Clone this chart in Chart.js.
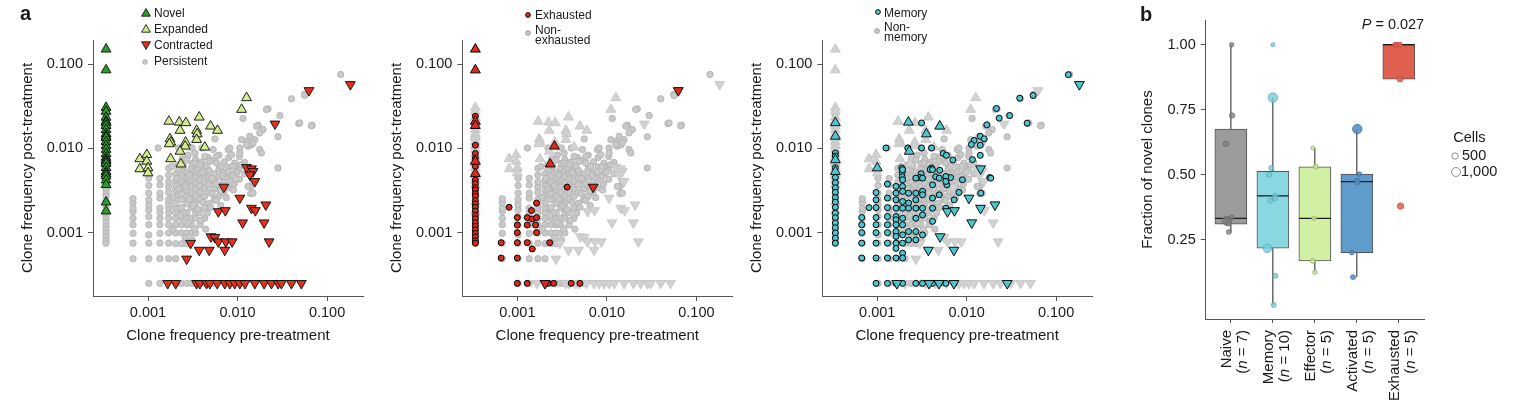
<!DOCTYPE html>
<html>
<head>
<meta charset="utf-8">
<title>Clone frequency pre/post treatment</title>
<script src="https://cdn.jsdelivr.net/npm/chart.js@4.4.1/dist/chart.umd.min.js"></script>
<style>
  html, body { margin:0; padding:0; background:#ffffff; }
  body { position:relative; width:1516px; height:401px; overflow:hidden;
         font-family:"Liberation Sans", Arial, Helvetica, sans-serif; color:#1a1a1a; }
  canvas { position:absolute; top:0; }
  .t { position:absolute; white-space:nowrap; }
  .lg { font-size:12px; line-height:12px; }
  .lg2 { font-size:12px; line-height:10px; }
  svg { position:absolute; overflow:visible; }
  .cat { position:absolute; width:90px; height:32px; font-size:15px; line-height:16px; text-align:right;
         white-space:nowrap; transform:rotate(-90deg); transform-origin:0 0; }
</style>
</head>
<body>
<canvas id="pA1" width="370" height="401" style="left:0px"></canvas>
<canvas id="pA2" width="370" height="401" style="left:370px"></canvas>
<canvas id="pA3" width="370" height="401" style="left:730px"></canvas>
<canvas id="pB" width="416" height="401" style="left:1100px"></canvas>

<div class="t" style="left:20px;top:3px;font-size:20px;line-height:20px;font-weight:bold">a</div>
<div class="t" style="left:1140px;top:3.8px;font-size:20px;line-height:20px;font-weight:bold">b</div>

<!-- legend panel 1 -->
<svg width="10" height="10" style="left:140.7px;top:7.7px"><polygon points="5,0.6 9.4,8.2 0.6,8.2" fill="#2f9b2d" stroke="#000" stroke-width="0.8"/></svg>
<div class="t lg" style="left:154px;top:7.1px">Novel</div>
<svg width="10" height="10" style="left:140.7px;top:24.3px"><polygon points="5,0.6 9.4,8.2 0.6,8.2" fill="#d4ec90" stroke="#000" stroke-width="0.8"/></svg>
<div class="t lg" style="left:154px;top:23.2px">Expanded</div>
<svg width="10" height="10" style="left:140.7px;top:40px"><polygon points="0.6,1.8 9.4,1.8 5,9.4" fill="#e0321e" stroke="#000" stroke-width="0.8"/></svg>
<div class="t lg" style="left:154px;top:39.2px">Contracted</div>
<svg width="10" height="10" style="left:140px;top:57px"><circle cx="5" cy="5" r="2.4" fill="#c9c9c9" stroke="#a8a8a8" stroke-width="0.7"/></svg>
<div class="t lg" style="left:154px;top:55.3px">Persistent</div>

<!-- legend panel 2 -->
<svg width="10" height="10" style="left:523.3px;top:9.7px"><circle cx="5" cy="5" r="2.4" fill="#dc2b1c" stroke="#000" stroke-width="0.9"/></svg>
<div class="t lg" style="left:535px;top:8.8px">Exhausted</div>
<svg width="10" height="10" style="left:522.7px;top:28.3px"><circle cx="5" cy="5" r="2.4" fill="#c9c9c9" stroke="#888" stroke-width="0.7"/></svg>
<div class="t lg2" style="left:535px;top:24.8px">Non-<br>exhausted</div>

<!-- legend panel 3 -->
<svg width="10" height="10" style="left:873.3px;top:7px"><circle cx="5" cy="5" r="2.4" fill="#4fc6cf" stroke="#000" stroke-width="0.9"/></svg>
<div class="t lg" style="left:884px;top:6.5px">Memory</div>
<svg width="10" height="10" style="left:872.3px;top:26px"><circle cx="5" cy="5" r="2.4" fill="#c9c9c9" stroke="#888" stroke-width="0.7"/></svg>
<div class="t lg2" style="left:884px;top:21.5px">Non-<br>memory</div>

<!-- panel b annotations -->
<div class="t" style="left:1361.7px;top:17.4px;font-size:14.5px;line-height:14.5px"><i>P</i> = 0.027</div>
<div class="t" style="left:1453.3px;top:130.4px;font-size:14.5px;line-height:14.5px">Cells</div>
<div class="t" style="left:1462px;top:147.7px;font-size:14.5px;line-height:14.5px">500</div>
<div class="t" style="left:1461px;top:164.4px;font-size:14.5px;line-height:14.5px">1,000</div>

<script>
// ================= DATA =================
// Panel a: clone frequencies (pre-treatment x, post-treatment y)
const logTicks = [0.001, 0.01, 0.1];
const logTickLabels = ['0.001', '0.010', '0.100'];
const notDetectedPre = 0.00034;     // placement of clones absent before treatment

const novelPost = [0.150, 0.085, 0.0305, 0.0274, 0.0233, 0.0209, 0.0201, 0.0186, 0.0167, 0.0149, 0.0139,
  0.0134, 0.0120, 0.0108, 0.0097, 0.0086, 0.0078, 0.0073, 0.0070, 0.0066, 0.0059, 0.0053, 0.0050,
  0.0047, 0.0042, 0.0037, 0.0023, 0.0018];

const persistentLeftPost = [0.024, 0.0109, 0.0087, 0.0077, 0.0061, 0.0052, 0.0046, 0.0042, 0.0038, 0.0034,
  0.0032, 0.0029, 0.0027, 0.0024, 0.0022, 0.0020, 0.0018, 0.0016, 0.00146, 0.00131, 0.00119, 0.00108,
  0.00098, 0.00089, 0.0008, 0.00075];

const expanded = [[0.00171,0.0209],[0.00223,0.0204],[0.00265,0.0201],[0.00373,0.0234],[0.00228,0.0163],
  [0.00176,0.0129],[0.0018,0.0118],[0.00173,0.0113],[0.00349,0.0163],[0.00354,0.0148],[0.00349,0.0127],
  [0.0050,0.0183],[0.00598,0.0163],[0.00263,0.0118],[0.0026,0.0106],[0.00431,0.0103],[0.00228,0.0092],
  [0.00179,0.0075],[0.00233,0.0065],[0.00081,0.0075],[0.00097,0.0084],[0.00097,0.0070],[0.00081,0.0057],
  [0.001,0.00585],[0.001,0.0051],[0.0111,0.0289],[0.0126,0.0398]];

const contracted = [[0.182,0.0573],[0.0628,0.0486],[0.0262,0.0195],[0.0126,0.00594],[0.0143,0.00573],
  [0.0149,0.00532],[0.0137,0.00486],[0.0156,0.00405],[0.00703,0.00347],[0.0106,0.00257],[0.0143,0.00195],
  [0.0158,0.00183],[0.0207,0.00214],[0.0061,0.00178],[0.0073,0.00183],[0.0114,0.00131],[0.0198,0.00131],
  [0.0225,0.00078],[0.00504,0.000896],[0.00558,0.00088],[0.0061,0.00078],[0.0074,0.00078],[0.0087,0.00078],
  [0.00299,0.000748],[0.00373,0.00062],[0.00483,0.00062],[0.0072,0.00062],[0.0027,0.000487],
  [0.00166,0.00025],[0.00204,0.00025],[0.00349,0.00025],[0.0038,0.00025],[0.00451,0.00025],[0.00491,0.00025],
  [0.00593,0.00025],[0.0072,0.00025],[0.0082,0.00025],[0.0093,0.00025],[0.0106,0.00025],[0.0121,0.00025],
  [0.0156,0.00025],[0.0198,0.00025],[0.0239,0.00025],[0.0284,0.00025],[0.0309,0.00025],[0.040,0.00025],
  [0.0516,0.00025]];

const persistent = [
  [0.00068,0.00049],[0.00068,0.00075],[0.00068,0.00098],[0.00068,0.00124],[0.00068,0.00148],[0.00068,0.00178],
  [0.00068,0.00195],[0.00068,0.00228],[0.00068,0.00252],
  [0.00102,0.00025],[0.00102,0.00049],[0.00102,0.00075],[0.00102,0.00094],[0.00102,0.00124],[0.00102,0.00155],
  [0.00102,0.00186],[0.00102,0.00214],[0.00102,0.00245],[0.00102,0.00294],[0.00102,0.00363],[0.00102,0.00443],
  [0.00102,0.00558],
  [0.00136,0.00025],[0.00136,0.00049],[0.00136,0.00075],[0.00136,0.00098],[0.00136,0.00124],[0.00136,0.00148],
  [0.00136,0.00173],[0.00136,0.00195],[0.00136,0.00257],[0.00136,0.00294],[0.00136,0.00369],[0.00136,0.0044],
  [0.0017,0.00049],[0.0017,0.00075],[0.0017,0.00099],[0.0017,0.00124],[0.0017,0.00148],[0.0017,0.00173],
  [0.0017,0.00198],[0.0017,0.00222],[0.0017,0.00247],[0.0017,0.0030],[0.0017,0.0035],[0.0017,0.0040],
  [0.0017,0.0048],[0.0017,0.0058],
  [0.00204,0.00025],[0.00204,0.00049],[0.00204,0.00074],[0.00204,0.00099],[0.00204,0.00124],[0.00204,0.00148],
  [0.00204,0.00173],[0.00204,0.00198],[0.00204,0.00222],[0.00204,0.0027],[0.00204,0.0032],[0.00204,0.0037],
  [0.00204,0.0042],[0.00204,0.0050],
  [0.00238,0.00025],[0.00238,0.00074],[0.00238,0.00099],[0.00238,0.00124],[0.00238,0.00148],[0.00238,0.00173],
  [0.00238,0.00198],[0.00238,0.00247],[0.00238,0.0029],[0.00238,0.0034],[0.00238,0.0040],[0.00238,0.0046],
  [0.00238,0.0055],
  [0.00272,0.00025],[0.00272,0.00074],[0.00272,0.00099],[0.00272,0.00124],[0.00272,0.00148],[0.00272,0.00173],
  [0.00272,0.00222],[0.00272,0.0027],[0.00272,0.0032],[0.00272,0.0038],[0.00272,0.0045],[0.00272,0.0052],
  [0.00306,0.00025],[0.00306,0.00099],[0.00306,0.00124],[0.00306,0.00148],[0.00306,0.00198],[0.00306,0.00247],
  [0.00306,0.0030],[0.00306,0.0035],[0.00306,0.0042],[0.00306,0.0049],[0.00306,0.0058],
  [0.0034,0.00025],[0.0034,0.00099],[0.0034,0.00148],[0.0034,0.00173],[0.0034,0.00222],[0.0034,0.0027],
  [0.0034,0.0033],[0.0034,0.0039],[0.0034,0.0046],[0.0034,0.0054],
  [0.0038,0.00025],[0.0038,0.00124],[0.0038,0.00173],[0.0038,0.00247],[0.0038,0.0030],[0.0038,0.0036],
  [0.0038,0.0043],[0.0038,0.0051],
  [0.0043,0.00025],[0.0043,0.00148],[0.0043,0.00198],[0.0043,0.0027],[0.0043,0.0033],[0.0043,0.0040],
  [0.0043,0.0049],[0.0043,0.0058],
  [0.0048,0.00025],[0.0048,0.00222],[0.0048,0.0030],[0.0048,0.0037],[0.0048,0.0045],[0.0048,0.0055],
  [0.0055,0.00025],[0.0055,0.00247],[0.0055,0.0033],[0.0055,0.0041],[0.0055,0.0050],
  [0.0062,0.0027],[0.0062,0.0036],[0.0062,0.0046],[0.0062,0.0057],
  [0.0070,0.0030],[0.0070,0.0040],[0.0070,0.0052],
  [0.0080,0.0034],[0.0080,0.0045],[0.0080,0.0060],[0.0080,0.0078],
  [0.0092,0.0038],[0.0092,0.0050],
  [0.0105,0.0043],[0.0105,0.0058],[0.0105,0.0080],
  [0.012,0.0050],[0.012,0.0068],
  [0.014,0.0029],[0.014,0.0035],
  [0.0022,0.0056],[0.0025,0.0062],[0.0029,0.0048],[0.0031,0.0066],[0.0036,0.0058],[0.0041,0.0052],
  [0.0045,0.0062],[0.0052,0.0044],[0.0058,0.0038],[0.0064,0.0031],[0.0068,0.0048],[0.0075,0.0036],
  [0.0085,0.0042],[0.0095,0.0062],[0.0026,0.0036],[0.0029,0.0025],[0.0032,0.0021],[0.0036,0.0019],
  [0.0041,0.0023],[0.0046,0.0017],[0.0052,0.0029],[0.0058,0.0024],[0.0022,0.0033],[0.0019,0.0026],
  [0.0025,0.0017],[0.0028,0.0013],[0.0033,0.0011],[0.0039,0.0014],[0.0044,0.0011],[0.0050,0.0020],
  [0.0021,0.0044],[0.0024,0.0075],[0.0028,0.0083],[0.0034,0.0074],[0.0040,0.0069],[0.0047,0.0078],
  [0.0055,0.0072],[0.0062,0.0083],[0.0071,0.0069],[0.0078,0.0053],[0.0088,0.0047],[0.0099,0.0052],
  [0.011,0.0064],[0.0026,0.00087],[0.0031,0.00082],[0.0019,0.0011],[0.0023,0.0016],[0.0065,0.0021],
  [0.0075,0.0026],[0.0090,0.0032],
  [0.142,0.0753],[0.056,0.0437],[0.040,0.0387],[0.0219,0.0294],[0.0297,0.0245],[0.0115,0.0226],[0.0482,0.0197],
  [0.068,0.0188],[0.0170,0.0188],[0.0193,0.0167],[0.0283,0.0137],[0.0156,0.0127],[0.0137,0.0139],[0.0126,0.0121],
  [0.0111,0.0127],[0.0131,0.0106],[0.0143,0.0110],[0.0177,0.00967],[0.0106,0.0101],[0.00785,0.00967],
  [0.00857,0.0084],[0.00559,0.01294],[0.00431,0.00803],[0.0013,0.0101],[0.00334,0.0088],[0.0283,0.00585],
  [0.00583,0.0067],[0.0066,0.0061],[0.0049,0.0070],[0.00334,0.0067],[0.0027,0.0073],[0.00218,0.0064],
  [0.00184,0.0061],[0.0163,0.0183],[0.0177,0.01525],[0.0210,0.0289],[0.0495,0.020],[0.0668,0.0186],
  [0.0562,0.0424],[0.0126,0.0111],[0.0149,0.0116],[0.0106,0.0088],[0.0093,0.0067],[0.0185,0.0088],
  [0.0082,0.0101],[0.00583,0.00803],[0.0038,0.0064],[0.00534,0.00967],[0.0089,0.0061],[0.0149,0.00294],
  [0.0131,0.00353],[0.0149,0.0040],[0.0022,0.0101],[0.0031,0.0101],[0.0040,0.0101]];

// Panel a, middle: exhausted clones
const exhaustedLeftPost = [0.024, 0.0109, 0.0087, 0.0077, 0.0061, 0.0042, 0.0038, 0.0034, 0.0032, 0.0029,
  0.0027, 0.0024, 0.0022, 0.0020, 0.0018, 0.0016, 0.00146, 0.00131, 0.00119, 0.00108, 0.00098, 0.00089,
  0.0008, 0.00075];
const exhaustedLeftNovelPost = [0.150, 0.085, 0.0209, 0.0186, 0.0070, 0.0050];
const exhaustedCircles = [[0.00081,0.0020],[0.00164,0.00224],[0.00144,0.00183],[0.00129,0.00151],
  [0.00147,0.00145],[0.00164,0.00151],[0.001,0.00151],[0.001,0.00123],[0.00129,0.00123],[0.0016,0.00123],
  [0.001,0.001],[0.00164,0.001],[0.00066,0.00076],[0.001,0.00076],[0.00129,0.00076],[0.0023,0.00076],
  [0.00147,0.00064],[0.00066,0.0005],[0.001,0.0005],[0.0036,0.00347],[0.001,0.00025],[0.00129,0.00025],
  [0.0022,0.00025],[0.00255,0.00025],[0.0040,0.00025],[0.0050,0.00025]];
const exhaustedUp = [[0.0026,0.0106],[0.00233,0.0065]];
const exhaustedDown = [[0.0628,0.0486],[0.00703,0.00347],[0.00204,0.00025]];

// Panel a, right: memory clones
const memoryLeftPost = [0.0088, 0.0081, 0.0059, 0.0045, 0.0039, 0.0034, 0.0030, 0.0026, 0.0023, 0.0020,
  0.0017, 0.0015, 0.0013, 0.00114, 0.00099, 0.00086, 0.00075];
const memoryLeftNovelPost = [0.0201, 0.0139, 0.0073, 0.0053];
const memoryCircles = [[0.137,0.0748],[0.0553,0.0424],[0.0392,0.0394],[0.0215,0.0297],[0.0231,0.0228],
  [0.0303,0.0245],[0.0168,0.0190],[0.0474,0.0199],[0.00313,0.0200],[0.0142,0.0139],[0.0157,0.0130],
  [0.0121,0.0124],[0.0113,0.0111],[0.0142,0.0109],[0.00125,0.0101],[0.00313,0.0101],[0.00405,0.0101],
  [0.0022,0.0101],[0.00546,0.0087],[0.00594,0.00826],[0.0070,0.00728],[0.0142,0.00826],[0.0116,0.00735],
  [0.00188,0.00585],[0.00405,0.00585],[0.0019,0.0052],[0.0019,0.0046],[0.0031,0.0050],[0.0039,0.0056],
  [0.0030,0.0045],[0.0050,0.0055],[0.0045,0.0046],[0.0066,0.0045],[0.0181,0.0045],[0.0082,0.0030],
  [0.0060,0.0037],
  [0.00067,0.00151],[0.00067,0.00124],[0.00067,0.0010],[0.00067,0.00075],[0.00067,0.0005],[0.00081,0.00198],
  [0.00097,0.00299],[0.00097,0.00245],[0.00097,0.00198],[0.00097,0.00151],[0.00097,0.00124],[0.00097,0.0010],
  [0.00097,0.00075],[0.00097,0.0005],[0.00097,0.00025],
  [0.0013,0.00377],[0.0013,0.00257],[0.0013,0.00198],[0.0013,0.00155],[0.0013,0.00124],[0.0013,0.0010],
  [0.0013,0.00075],[0.0013,0.0005],[0.0013,0.00025],
  [0.00162,0.00353],[0.00162,0.00294],[0.00162,0.00245],[0.00162,0.00195],[0.00162,0.00155],[0.00162,0.00142],
  [0.00162,0.00124],[0.00162,0.00103],[0.00162,0.0009],[0.00162,0.00075],[0.00162,0.00065],[0.00162,0.0005],
  [0.00162,0.00025],
  [0.00192,0.00558],[0.00192,0.00424],[0.00192,0.00353],[0.00192,0.00308],[0.00192,0.00234],[0.00192,0.00195],
  [0.00192,0.00148],[0.00192,0.00124],[0.00192,0.00094],[0.00192,0.00075],[0.00192,0.00057],[0.00192,0.0005],
  [0.00192,0.00025],
  [0.00224,0.00294],[0.00224,0.00224],[0.00224,0.00195],[0.00224,0.00103],[0.00224,0.00082],
  [0.0027,0.00443],[0.0027,0.00294],[0.0027,0.00245],[0.0027,0.00195],[0.0027,0.00148],[0.0027,0.00103],
  [0.0027,0.00082],[0.0027,0.00025],
  [0.00321,0.00443],[0.00321,0.0031],[0.00321,0.00281],[0.00321,0.00195],[0.00321,0.00162],[0.00321,0.00094],
  [0.00321,0.00025],
  [0.00415,0.00558],[0.00415,0.00369],[0.00415,0.00257],[0.00415,0.00195],[0.00415,0.00136],[0.00415,0.00025],
  [0.00493,0.00443],[0.00493,0.00281],[0.00493,0.00025],
  [0.00585,0.00464],[0.00585,0.00405],[0.00585,0.00195],[0.00585,0.00025],
  [0.00724,0.00245],[0.00724,0.00025],[0.00897,0.00424],[0.0144,0.00294],[0.0186,0.00443]];
const memoryUp = [[0.00223,0.0204],[0.0050,0.0183],[0.00354,0.0148],[0.00228,0.0092],[0.001,0.00585]];
const memoryDown = [[0.182,0.0573],[0.0143,0.00573],[0.0106,0.00257],[0.0143,0.00195],[0.0207,0.00214],
  [0.0061,0.00178],[0.0073,0.00183],[0.0114,0.00131],[0.00504,0.000896],[0.00373,0.00062],[0.0072,0.00062],
  [0.00166,0.00025],[0.0038,0.00025],[0.00491,0.00025],[0.0072,0.00025],[0.0284,0.00025]];

// Panel b: fraction of novel clones per phenotype
const categories = ['Naive', 'Memory', 'Effector', 'Activated', 'Exhausted'];
const categoryN = [7, 10, 5, 5, 5];
const boxQ1 = [0.310, 0.218, 0.169, 0.201, 0.868];
const boxMedian = [0.333, 0.419, 0.333, 0.474, 1.000];
const boxQ3 = [0.676, 0.513, 0.531, 0.503, 1.000];
const whiskerLow = [0.278, 0.000, 0.126, 0.107, 0.868];
const whiskerHigh = [1.000, 0.797, 0.603, 0.676, 1.000];
const fracTicks = [0.25, 0.50, 0.75, 1.00];
const fracTickLabels = ['0.25', '0.50', '0.75', '1.00'];
const fractionValues = [
  [1.00, 0.728, 0.619, 0.336, 0.323, 0.314, 0.280],
  [1.00, 0.797, 0.526, 0.501, 0.417, 0.410, 0.401, 0.218, 0.112, 0.000],
  [0.603, 0.531, 0.333, 0.169, 0.126],
  [0.676, 0.503, 0.474, 0.201, 0.107],
  [1.00, 1.00, 1.00, 0.868, 0.380]];
const fractionJitter = [
  [0.02, 0.03, -0.12, 0.02, -0.10, -0.06, -0.05],
  [0.00, 0.00, -0.04, -0.09, 0.06, 0.05, -0.06, -0.13, 0.06, 0.02],
  [-0.05, 0.02, -0.02, -0.05, 0.00],
  [0.01, 0.06, 0.01, -0.12, -0.09],
  [-0.09, -0.04, 0.03, 0.03, 0.04]];
const fractionCells = [
  [250, 350, 350, 300, 1000, 400, 300],
  [200, 1100, 300, 300, 400, 300, 300, 900, 300, 300],
  [200, 300, 250, 300, 250],
  [1100, 250, 450, 250, 300],
  [300, 300, 300, 450, 500]];
const cellsLegend = [500, 1000];

// ================= STYLE =================
const FONT = '"Liberation Sans", Arial, Helvetica, sans-serif';
const INK = '#1a1a1a';
const AXIS = '#555555';
const preMin = 0.000243, preMax = 0.252;
const postMin = 0.000177, postMax = 0.193;
const boxFill = ['#9b9b9b', '#89d7e1', '#d1f0a3', '#5f9bcb', '#e0604f'];
const dotFill = ['rgba(128,128,128,0.75)', 'rgba(120,205,220,0.8)', 'rgba(196,230,150,0.85)',
                 'rgba(85,140,195,0.85)', 'rgba(225,95,80,0.85)'];
const dotEdge = ['rgba(95,95,95,0.8)', 'rgba(80,160,178,0.9)', 'rgba(140,170,100,0.9)',
                 'rgba(60,100,150,0.9)', 'rgba(190,70,60,0.9)'];
const boxHalfWidth = 0.38;
const TRI = 5.7, CIRC = 3.2, DOT = 3.0;
const sizeFor = c => 4.5 * Math.sqrt(c / 1000);

const pts = arr => arr.map(p => ({x: p[0], y: p[1]}));
const leftPts = arr => arr.map(y => ({x: notDetectedPre, y: y}));

function mk(data, shape, fill, edge, bw, r, rot, order) {
  return {data: data, order: order, pointStyle: shape, pointRadius: r, pointHoverRadius: r,
          pointBackgroundColor: fill, pointBorderColor: edge, pointBorderWidth: bw,
          pointRotation: rot, showLine: false};
}
const GRAYC = ['circle', '#c9c9c9', '#b0b0b0', 0.8, CIRC];
const GRAYT = ['triangle', '#d2d2d2', '#c3c3c3', 0.8, TRI];

function logAxis(title, fit, pad) {
  return {
    type: 'logarithmic',
    afterBuildTicks: s => { s.ticks = logTicks.map(v => ({value: v})); },
    afterFit: fit,
    ticks: {callback: (v, i) => logTickLabels[i], autoSkip: false, maxRotation: 0, padding: pad,
            color: INK, font: {family: FONT, size: 14.5}},
    grid: {display: true, drawOnChartArea: false, drawTicks: true, tickLength: 5, color: AXIS, lineWidth: 1},
    border: {display: true, color: AXIS, width: 1},
    title: {display: true, text: title, color: INK, font: {family: FONT, size: 15}, padding: 0}
  };
}

function makeScatter(id, datasets, padLeft, yWidth, padRight) {
  const H = 401, TOP = 40, BOTTOM = 296, PADB = 56;
  const x = logAxis('Clone frequency pre-treatment', s => { s.height = H - PADB - BOTTOM; }, 3);
  x.position = 'bottom'; x.min = preMin; x.max = preMax;
  const y = logAxis('Clone frequency post-treatment', s => { s.width = yWidth; }, 5);
  y.position = 'left'; y.min = postMin; y.max = postMax;
  return new Chart(document.getElementById(id), {
    type: 'scatter',
    data: {datasets: datasets},
    options: {
      responsive: false, animation: false, devicePixelRatio: 1, events: [],
      layout: {padding: {left: padLeft, right: padRight, top: TOP, bottom: PADB}},
      plugins: {legend: {display: false}, tooltip: {enabled: false}},
      scales: {x: x, y: y}
    }
  });
}

// ---- panel a1 ----
makeScatter('pA1', [
  mk(pts(persistent).concat(leftPts(persistentLeftPost)), GRAYC[0], GRAYC[1], GRAYC[2], GRAYC[3], GRAYC[4], 0, 5),
  mk(pts(expanded), 'triangle', '#d4ec90', '#0b0b0b', 0.9, TRI, 0, 4),
  mk(pts(contracted), 'triangle', '#e0321e', '#0b0b0b', 0.9, TRI, 180, 3),
  mk(leftPts(novelPost), 'triangle', '#2f9b2d', '#0b0b0b', 0.9, TRI, 0, 2)
], 19, 74, 7);

// ---- panel a2 ----
makeScatter('pA2', [
  mk(pts(persistent).concat(leftPts(persistentLeftPost)), GRAYC[0], GRAYC[1], GRAYC[2], GRAYC[3], GRAYC[4], 0, 6),
  mk(pts(expanded).concat(leftPts(novelPost)), GRAYT[0], GRAYT[1], GRAYT[2], GRAYT[3], GRAYT[4], 0, 5),
  mk(pts(contracted), GRAYT[0], GRAYT[1], GRAYT[2], GRAYT[3], GRAYT[4], 180, 5),
  mk(pts(exhaustedCircles).concat(leftPts(exhaustedLeftPost)), 'circle', '#dc2b1c', '#000000', 1, DOT, 0, 3),
  mk(pts(exhaustedUp).concat(leftPts(exhaustedLeftNovelPost)), 'triangle', '#dc2b1c', '#000000', 0.9, TRI, 0, 2),
  mk(pts(exhaustedDown), 'triangle', '#dc2b1c', '#000000', 0.9, TRI, 180, 1)
], 17.7, 74.6, 7.7);

// ---- panel a3 ----
makeScatter('pA3', [
  mk(pts(persistent).concat(leftPts(persistentLeftPost)), GRAYC[0], GRAYC[1], GRAYC[2], GRAYC[3], GRAYC[4], 0, 6),
  mk(pts(expanded).concat(leftPts(novelPost)), GRAYT[0], GRAYT[1], GRAYT[2], GRAYT[3], GRAYT[4], 0, 5),
  mk(pts(contracted), GRAYT[0], GRAYT[1], GRAYT[2], GRAYT[3], GRAYT[4], 180, 5),
  mk(pts(memoryCircles).concat(leftPts(memoryLeftPost)), 'circle', '#4fc6cf', '#000000', 1, DOT, 0, 3),
  mk(pts(memoryUp).concat(leftPts(memoryLeftNovelPost)), 'triangle', '#4fc6cf', '#000000', 0.9, TRI, 0, 2),
  mk(pts(memoryDown), 'triangle', '#4fc6cf', '#000000', 0.9, TRI, 180, 1)
], 17.7, 74.6, 8);

// ---- panel b ----
const whiskerData = [], medianData = [], boxData = [], jitterData = [], radii = [], fills = [], edges = [];
categories.forEach((c, i) => {
  whiskerData.push({x: i, y: whiskerLow[i]}, {x: i, y: boxQ1[i]}, {x: i, y: null},
                   {x: i, y: boxQ3[i]}, {x: i, y: whiskerHigh[i]}, {x: i, y: null});
  medianData.push({x: i - boxHalfWidth, y: boxMedian[i]}, {x: i + boxHalfWidth, y: boxMedian[i]},
                  {x: i + boxHalfWidth, y: null});
  boxData.push({x: i, y: [boxQ1[i], boxQ3[i]]});
  fractionValues[i].forEach((v, k) => {
    jitterData.push({x: i + fractionJitter[i][k], y: v});
    radii.push(sizeFor(fractionCells[i][k]));
    fills.push(dotFill[i]); edges.push(dotEdge[i]);
  });
});

const chartB = new Chart(document.getElementById('pB'), {
  type: 'bar',
  data: {datasets: [
    {type: 'line', data: whiskerData, borderColor: '#222222', borderWidth: 1, pointRadius: 0,
     spanGaps: false, fill: false, order: 4},
    {type: 'bar', data: boxData, backgroundColor: boxFill, borderColor: '#555555', borderWidth: 1,
     borderSkipped: false, barThickness: 32, grouped: false, order: 3},
    {type: 'line', data: medianData, borderColor: '#1a1a1a', borderWidth: 1.2, pointRadius: 0,
     spanGaps: false, fill: false, order: 2},
    {type: 'scatter', data: jitterData, pointRadius: radii, pointHoverRadius: radii,
     pointBackgroundColor: fills, pointBorderColor: edges, pointBorderWidth: 0.8, showLine: false, order: 1}
  ]},
  options: {
    responsive: false, animation: false, devicePixelRatio: 1, events: [],
    layout: {padding: {left: 38.5, right: 92, top: 20, bottom: 0}},
    plugins: {legend: {display: false}, tooltip: {enabled: false}},
    scales: {
      x: {type: 'linear', min: -0.6, max: 4.6, offset: false,
          afterBuildTicks: s => { s.ticks = categories.map((c, i) => ({value: i})); },
          afterFit: s => { s.height = 401 - 319; },
          ticks: {callback: () => '', autoSkip: false, maxRotation: 0},
          grid: {display: true, drawOnChartArea: false, drawTicks: true, tickLength: 4, color: AXIS, offset: false},
          border: {display: true, color: AXIS, width: 1}},
      y: {type: 'linear', min: -0.054, max: 1.095,
          afterBuildTicks: s => { s.ticks = fracTicks.map(v => ({value: v})); },
          afterFit: s => { s.width = 67.2; },
          ticks: {callback: (v, i) => fracTickLabels[i], autoSkip: false, padding: 5, color: INK,
                  font: {family: FONT, size: 14.5}},
          grid: {display: true, drawOnChartArea: false, drawTicks: true, tickLength: 5, color: AXIS},
          border: {display: true, color: AXIS, width: 1},
          title: {display: true, text: 'Fraction of novel clones', color: INK,
                  font: {family: FONT, size: 15}, padding: 0}}
    }
  }
});

// category labels (rotated, with italic n) placed at the category scale positions
const xs = chartB.scales.x;
categories.forEach((c, i) => {
  const d = document.createElement('div');
  d.className = 'cat';
  d.innerHTML = c + '<br>(<i>n</i> = ' + categoryN[i] + ')';
  d.style.left = (1100 + xs.getPixelForValue(i) - 13) + 'px';
  d.style.top = (330 + 90) + 'px';
  document.body.appendChild(d);
});

// Cells size legend
const legY = [155.7, 171.7], legX = [1455, 1456];
cellsLegend.forEach((c, k) => {
  const r = sizeFor(c);
  const s = document.createElementNS('http://www.w3.org/2000/svg', 'svg');
  s.setAttribute('width', '12'); s.setAttribute('height', '12');
  s.style.left = (legX[k] - 6) + 'px'; s.style.top = (legY[k] - 6) + 'px';
  s.innerHTML = '<circle cx="6" cy="6" r="' + r + '" fill="#ffffff" stroke="#888888" stroke-width="0.9"/>';
  document.body.appendChild(s);
});
</script>
</body>
</html>
